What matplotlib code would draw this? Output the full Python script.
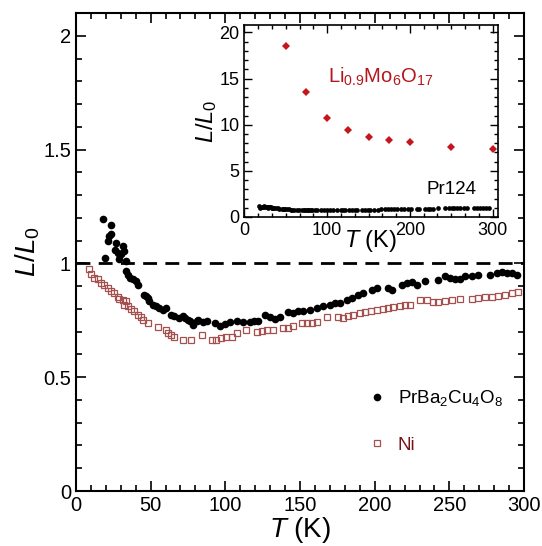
import numpy as np
import matplotlib
matplotlib.use("Agg")
import matplotlib.pyplot as plt
from matplotlib.ticker import MultipleLocator

plt.rcParams['font.family'] = ['Liberation Sans', 'DejaVu Sans']
plt.rcParams['mathtext.fontset'] = 'custom'
plt.rcParams['mathtext.rm'] = 'Liberation Sans'
plt.rcParams['mathtext.it'] = 'Liberation Sans:italic'

# PrBa2Cu4O8 (filled circles)
pr_T = [17.9, 19.2, 21.6, 22.3, 23.2, 23.7, 26.1, 26.8, 28.1, 29.0, 30.1, 31.3,
        32.4, 33.5, 33.5, 34.6, 36.2, 38.0, 40.2, 41.3, 45.8, 46.9, 48.0, 49.1,
        51.3, 53.6, 55.8, 58.0, 60.3, 63.6, 65.8, 69.2, 71.9, 73.0, 75.2, 76.3,
        78.6, 80.8, 81.9, 85.3, 88.0, 93.1, 96.4, 99.8, 103.1, 107.6, 112.0,
        116.5, 119.0, 122.1, 126.6, 129.9, 133.3, 136.6, 142.2, 145.5, 148.9,
        152.2, 156.7, 161.2, 165.6, 170.1, 173.4, 176.8, 181.3, 184.6, 189.1,
        192.4, 198.0, 201.4, 209.2, 211.4, 218.1, 221.4, 224.8, 228.1, 233.7,
        242.6, 247.1, 250.5, 253.8, 257.1, 260.5, 265.0, 269.4, 277.2, 281.7,
        285.1, 288.4, 291.8, 295.1]
pr_L = [1.194, 1.025, 1.098, 1.120, 1.167, 1.129, 1.059, 1.091, 1.047, 1.018,
        1.040, 1.076, 1.054, 1.010, 0.966, 0.951, 0.937, 0.930, 0.922, 0.907,
        0.863, 0.856, 0.849, 0.834, 0.819, 0.812, 0.805, 0.797, 0.805, 0.775,
        0.768, 0.761, 0.768, 0.761, 0.750, 0.746, 0.731, 0.746, 0.753, 0.741,
        0.746, 0.739, 0.727, 0.735, 0.741, 0.746, 0.741, 0.741, 0.746, 0.746,
        0.775, 0.765, 0.756, 0.765, 0.786, 0.783, 0.790, 0.790, 0.797, 0.805,
        0.812, 0.819, 0.824, 0.827, 0.841, 0.849, 0.863, 0.871, 0.885, 0.893,
        0.893, 0.885, 0.907, 0.915, 0.918, 0.907, 0.922, 0.926, 0.944, 0.937,
        0.933, 0.930, 0.944, 0.944, 0.947, 0.951, 0.959, 0.962, 0.959, 0.959,
        0.947]

# Ni (open squares)
ni_T = [8.5, 10.0, 12.3, 14.5, 16.7, 19.0, 21.2, 23.4, 25.7, 27.9, 29.0, 31.3,
        32.4, 33.5, 34.6, 36.8, 39.0, 41.3, 43.5, 44.7, 48.0, 54.7, 60.3, 61.4,
        63.6, 65.8, 71.4, 77.0, 84.5, 90.9, 93.8, 96.9, 100.5, 104.3, 108.0,
        113.8, 121.0, 124.3, 128.1, 132.1, 138.8, 142.2, 145.5, 151.1, 154.5,
        157.8, 161.2, 167.9, 175.7, 179.0, 182.4, 185.7, 190.2, 193.5, 197.3,
        201.4, 205.8, 209.2, 212.5, 217.0, 220.3, 223.7, 230.4, 234.8, 239.3,
        242.6, 247.1, 251.6, 257.1, 265.0, 269.4, 273.9, 278.4, 282.8, 287.3,
        291.8, 296.2]
ni_L = [0.974, 0.952, 0.937, 0.930, 0.915, 0.903, 0.893, 0.878, 0.868, 0.853,
        0.844, 0.841, 0.819, 0.834, 0.812, 0.800, 0.790, 0.775, 0.765, 0.753,
        0.736, 0.720, 0.709, 0.695, 0.687, 0.677, 0.665, 0.662, 0.685, 0.662,
        0.665, 0.671, 0.677, 0.677, 0.695, 0.709, 0.697, 0.702, 0.706, 0.709,
        0.717, 0.717, 0.724, 0.736, 0.739, 0.739, 0.741, 0.765, 0.765, 0.761,
        0.768, 0.775, 0.783, 0.786, 0.790, 0.797, 0.800, 0.805, 0.809, 0.812,
        0.815, 0.819, 0.841, 0.841, 0.831, 0.831, 0.834, 0.838, 0.844, 0.844,
        0.849, 0.852, 0.853, 0.856, 0.863, 0.868, 0.874]

# Li0.9Mo6O17 (inset, red diamonds)
li_T = [50, 75, 100, 125, 150, 175, 200, 250, 300]
li_L = [18.5, 13.5, 10.7, 9.4, 8.66, 8.3, 8.08, 7.64, 7.4]

fig = plt.figure(figsize=(5.42, 5.46), dpi=100)
ax = fig.add_axes([0.140, 0.1007, 0.827, 0.8755])

ax.plot(pr_T, pr_L, 'o', color='black', ms=5.5, mew=0, label=r'PrBa$_2$Cu$_4$O$_8$')
ax.plot(ni_T, ni_L, 's', mfc='none', mec='#a3504e', ms=5, mew=0.9, label='Ni')
ax.axhline(1.0, color='black', lw=2, dashes=(5, 3))

ax.set_xlim(0, 300)
ax.set_ylim(0, 2.1)
ax.xaxis.set_major_locator(MultipleLocator(50))
ax.xaxis.set_minor_locator(MultipleLocator(10))
ax.yaxis.set_major_locator(MultipleLocator(0.5))
ax.yaxis.set_minor_locator(MultipleLocator(0.1))
ax.set_yticks([0, 0.5, 1, 1.5, 2], ['0', '0.5', '1', '1.5', '2'])
ax.tick_params(which='both', direction='in', top=True, right=True, width=1.2,
               labelsize=14.5)
ax.tick_params(which='major', length=7)
ax.tick_params(which='minor', length=4)
for s in ax.spines.values():
    s.set_linewidth(1.5)
ax.set_xlabel(r'$T$ (K)', fontsize=20, labelpad=0)
ax.set_ylabel(r'$\mathit{L/L_0}$', fontsize=20, labelpad=1)

leg = ax.legend(loc='upper left', bbox_to_anchor=(0.614, 0.25), frameon=False,
                fontsize=13.5, handlelength=1.0, handletextpad=0.6,
                labelspacing=1.5, markerscale=1.0)
leg.get_texts()[1].set_color('#7a1414')

# inset
axi = fig.add_axes([0.451, 0.6026, 0.467, 0.3514])
axi.plot(pr_T, pr_L, 'o', color='black', ms=3.4, mew=0)
axi.plot(li_T, li_L, 'D', color='#c4161c', ms=4.2, mew=0)
axi.set_xlim(0, 306)
axi.set_ylim(0, 20.8)
axi.xaxis.set_major_locator(MultipleLocator(100))
axi.xaxis.set_minor_locator(MultipleLocator(100 / 6))
axi.yaxis.set_major_locator(MultipleLocator(5))
axi.yaxis.set_minor_locator(MultipleLocator(1))
axi.tick_params(which='both', direction='in', top=True, right=True, width=1.0,
                labelsize=13)
axi.tick_params(which='major', length=6)
axi.tick_params(which='minor', length=3)
for s in axi.spines.values():
    s.set_linewidth(1.2)
axi.set_xlabel(r'$T$ (K)', fontsize=17, labelpad=-8)
axi.set_ylabel(r'$\mathit{L/L_0}$', fontsize=17, labelpad=0)
axi.text(0.33, 0.70, r'Li$_{0.9}$Mo$_6$O$_{17}$', transform=axi.transAxes,
         fontsize=14.5, color='#b5161c')
axi.text(0.72, 0.12, 'Pr124', transform=axi.transAxes, fontsize=13.5, color='black')

fig.savefig('out.png', dpi=100)
